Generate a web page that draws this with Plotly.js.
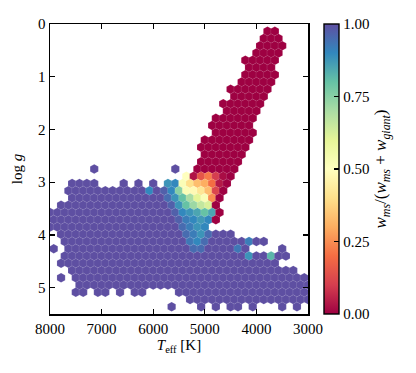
<!DOCTYPE html>
<html><head><meta charset="utf-8">
<script src="https://cdn.plot.ly/plotly-3.0.1.min.js"></script>
<style>html,body{margin:0;padding:0;background:#fff}#chart{width:416px;height:373px}</style>
</head><body><div id="chart"></div>
<script>
// Hexbin lattice: Teff 3000-8000 K (35 bins), log g 0-5.5 (20 bins).
// Cells are addressed by half-bin indices: Teff = teffMin + col*teffHalfBin, log g = row*loggHalfBin.
const teffMin = 3000, teffHalfBin = 5000 / 70;
const loggMin = 0, loggHalfBin = 5.5 / 40;

// Filled cells per row: [row, [[colHot, colCool, fraction], ...]]
const hexRows = [
  [1, [[11, 9, 0]]],
  [2, [[12, 8, 0]]],
  [3, [[13, 7, 0]]],
  [4, [[14, 8, 0]]],
  [5, [[17, 9, 0]]],
  [6, [[16, 10, 0]]],
  [7, [[17, 9, 0]]],
  [8, [[18, 10, 0]]],
  [9, [[21, 11, 0]]],
  [10, [[20, 12, 0]]],
  [11, [[23, 13, 0]]],
  [12, [[22, 14, 0]]],
  [13, [[25, 15, 0]]],
  [14, [[26, 16, 0]]],
  [15, [[25, 15, 0]]],
  [16, [[28, 16, 0]]],
  [17, [[29, 17, 0]]],
  [18, [[28, 18, 0]]],
  [19, [[29, 19, 0]]],
  [20, [[58, 58, 1], [36, 36, 1], [30, 20, 0]]],
  [21, [[33, 33, 0.5], [31, 21, 0]]],
  [22, [[64, 58, 1], [50, 50, 1], [46, 46, 1], [42, 42, 1], [38, 34, 1], [32, 22, 0]]],
  [23, [[65, 27, 1], [25, 23, 0]]],
  [24, [[64, 28, 1], [26, 24, 0]]],
  [25, [[67, 27, 1], [25, 25, 0]]],
  [26, [[70, 26, 1], [24, 24, 0]]],
  [27, [[69, 27, 1], [25, 25, 0]]],
  [28, [[70, 28, 1]]],
  [29, [[67, 21, 1]]],
  [30, [[66, 12, 1]]],
  [31, [[69, 69, 1], [65, 17, 1], [7, 7, 1]]],
  [32, [[66, 6, 1]]],
  [33, [[67, 9, 1]]],
  [34, [[64, 4, 1]]],
  [35, [[67, 67, 1], [63, 1, 1]]],
  [36, [[62, 0, 1]]],
  [37, [[63, 61, 1], [57, 55, 1], [51, 51, 1], [47, 45, 1], [35, 0, 1]]],
  [38, [[32, 0, 1]]],
  [39, [[37, 37, 1], [29, 29, 1], [25, 25, 1], [21, 19, 1], [15, 15, 1], [7, 7, 1], [3, 3, 1]]]
];

// Cells in the mixed region with their own fraction: [row, col, fraction]
const mixedCells = [
  [21, 31, 0.03], [21, 29, 0.15], [21, 27, 0.22], [21, 25, 0.1], [21, 23, 0.02],
  [22, 38, 0.88], [22, 36, 0.9], [22, 34, 0.52], [22, 32, 0.4], [22, 30, 0.33], [22, 28, 0.3], [22, 26, 0.2], [22, 24, 0.04],
  [23, 43, 0.9], [23, 39, 0.97], [23, 37, 0.9], [23, 35, 0.75], [23, 33, 0.52], [23, 31, 0.48], [23, 29, 0.42], [23, 27, 0.33], [23, 25, 0.12],
  [24, 38, 0.95], [24, 36, 0.88], [24, 34, 0.8], [24, 32, 0.7], [24, 30, 0.6], [24, 28, 0.52], [24, 26, 0.25],
  [25, 37, 0.97], [25, 35, 0.88], [25, 33, 0.8], [25, 31, 0.72], [25, 29, 0.66], [25, 27, 0.62],
  [26, 36, 0.97], [26, 34, 0.9], [26, 32, 0.88], [26, 30, 0.85], [26, 28, 0.8], [26, 26, 0.85],
  [27, 35, 0.97], [27, 33, 0.92], [27, 31, 0.9], [27, 29, 0.87], [27, 27, 0.9],
  [28, 34, 0.95], [28, 32, 0.92], [28, 30, 0.88], [28, 28, 0.9],
  [29, 33, 0.95], [29, 31, 0.92], [29, 29, 0.88], [29, 27, 0.95],
  [30, 32, 0.93], [30, 30, 0.9], [30, 28, 0.95], [30, 16, 0.92],
  [31, 31, 0.95], [31, 29, 0.95], [31, 19, 0.93],
  [32, 16, 0.88], [32, 10, 0.82]
];

const xTicks = [8000, 7000, 6000, 5000, 4000, 3000];
const yTicks = [0, 1, 2, 3, 4, 5];
const cbTicks = [0, 0.25, 0.5, 0.75, 1];

// matplotlib "Spectral"
const spectral = [
  [0.0, '#9e0142'], [0.1, '#d53e4f'], [0.2, '#f46d43'], [0.3, '#fdae61'], [0.4, '#fee08b'],
  [0.5, '#ffffbf'], [0.6, '#e6f598'], [0.7, '#abdda4'], [0.8, '#66c2a5'], [0.9, '#3288bd'], [1.0, '#5e4fa2']
];

const cellValue = {};
const order = [];
hexRows.forEach(([row, runs]) => {
  runs.forEach(([hot, cool, v]) => {
    for (let c = hot; c >= cool; c -= 2) {
      const key = row + ',' + c;
      if (!(key in cellValue)) order.push([row, c]);
      cellValue[key] = v;
    }
  });
});
mixedCells.forEach(([row, c, v]) => { cellValue[row + ',' + c] = v; });

const teff = [], logg = [], frac = [];
order.forEach(([row, c]) => {
  teff.push(teffMin + c * teffHalfBin);
  logg.push(loggMin + row * loggHalfBin);
  frac.push(cellValue[row + ',' + c]);
});

const FONT = 'Liberation Serif, Times New Roman, serif';

const trace = {
  type: 'scatter', mode: 'markers', x: teff, y: logg, hoverinfo: 'skip',
  marker: {
    symbol: 'hexagon', size: 9.5, color: frac, cmin: 0, cmax: 1, colorscale: spectral,
    line: {width: 0.6, color: 'rgba(255,255,255,0.2)'},
    colorbar: {
      x: 1.062, xanchor: 'left', xpad: 0, ypad: 0, y: 0.5, yanchor: 'middle',
      len: 1, lenmode: 'fraction', thickness: 15, thicknessmode: 'pixels',
      outlinewidth: 1.4, outlinecolor: '#000',
      tickvals: cbTicks, ticktext: cbTicks.map(v => v.toFixed(2)),
      ticks: 'inside', ticklen: 5, tickwidth: 1.3, tickcolor: '#000',
      tickfont: {family: FONT, size: 15, color: '#000'},
      title: {text: '<i>w</i><sub><i>ms</i></sub>/(<i>w</i><sub><i>ms</i></sub> + <i>w</i><sub><i>giant</i></sub>)',
              side: 'right', font: {family: FONT, size: 17, color: '#000'}}
    }
  }
};

const axisCommon = {
  showgrid: false, zeroline: false, showline: true, linecolor: '#000', linewidth: 1.5,
  mirror: 'ticks', ticks: 'inside', ticklen: 5, tickwidth: 1.3, tickcolor: '#000',
  tickfont: {family: FONT, size: 15, color: '#000'}
};

const layout = {
  width: 416, height: 373,
  margin: {l: 50, r: 108, t: 24, b: 59},
  paper_bgcolor: '#fff', plot_bgcolor: '#fff',
  showlegend: false,
  xaxis: Object.assign({}, axisCommon, {
    range: [8000, 3000], tickvals: xTicks, ticktext: xTicks.map(String),
    title: {text: '<i>T</i><sub>eff</sub> [K]', font: {family: FONT, size: 15, color: '#000'}, standoff: 4}
  }),
  yaxis: Object.assign({}, axisCommon, {
    range: [5.5, 0], tickvals: yTicks, ticktext: yTicks.map(String),
    title: {text: 'log <i>g</i>', font: {family: FONT, size: 15, color: '#000'}, standoff: 12}
  })
};

Plotly.newPlot('chart', [trace], layout, {displayModeBar: false, staticPlot: true});
</script>
</body></html>
